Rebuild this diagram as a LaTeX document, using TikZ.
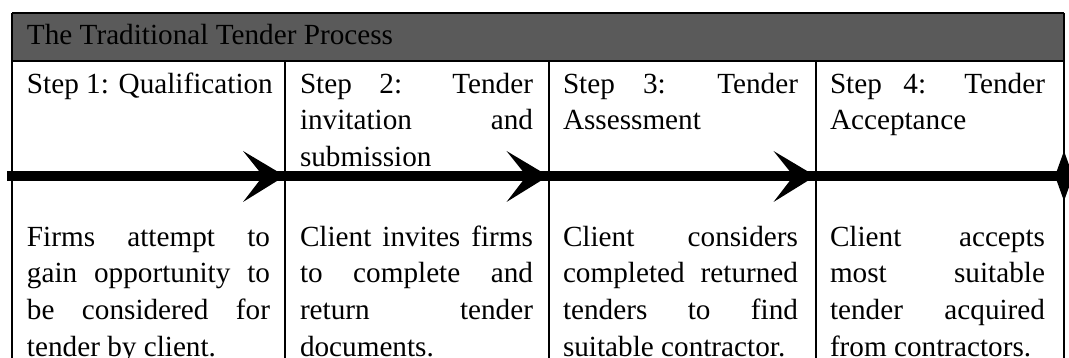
\documentclass[tikz,border=0pt]{standalone}
\usepackage{fontspec}
\setmainfont{Liberation Serif}
\definecolor{hdr}{RGB}{90,90,90}
\newlength\hdrw
\newcommand\bodyfont{\fontsize{\fs pt}{\fs pt}\selectfont}
\begin{document}
\settowidth\hdrw{\fontsize{20pt}{24pt}\selectfont The Traditional Tender Process}
\pgfmathsetmacro\fs{20*366/\hdrw}
\begin{tikzpicture}[x=1pt,y=-1pt,
  rule/.style={line width=2pt,black},
  frame/.style={line width=2.6pt,black},
  txt/.style={anchor=base west,inner sep=0pt,outer sep=0pt,font=\bodyfont},
  flow/.style={line width=10pt,black},
  headtip/.style={fill=black}]
\useasboundingbox (0,0) rectangle (1069,358);
\clip (0,0) rectangle (1069,358);
% header band
\fill[hdr] (12,13) rectangle (1064,61);
\draw[frame] (12,13) -- (1064,13);
\draw[frame] (12,61) -- (1064,61);
% vertical rules
\draw[frame] (12,13) -- (12,370);
\draw[frame] (1064,13) -- (1064,370);
\draw[rule] (285,61) -- (285,370);
\draw[rule] (548.5,61) -- (548.5,370);
\draw[rule] (815.5,61) -- (815.5,370);
% title
\node[txt] (title) at (27,45) {The Traditional Tender Process};
% step headings
\node[txt] (s1a) at (27,93.3) {Step 1: Qualification};
\node[txt] (s2a) at (300,93.3) {\makebox[233pt][s]{Step 2: Tender}};
\node[txt] (s2b) at (300,130) {\makebox[233pt][s]{invitation and}};
\node[txt] (s2c) at (300,166.7) {submission};
\node[txt] (s3a) at (563,93.3) {\makebox[235pt][s]{Step 3: Tender}};
\node[txt] (s3b) at (563,130) {Assessment};
\node[txt] (s4a) at (830,93.3) {\makebox[215pt][s]{Step 4: Tender}};
\node[txt] (s4b) at (830,130) {Acceptance};
% descriptions
\node[txt] (d1a) at (27,246.5) {\makebox[243pt][s]{Firms attempt to}};
\node[txt] (d1b) at (27,283) {\makebox[243pt][s]{gain opportunity to}};
\node[txt] (d1c) at (27,319.7) {\makebox[243pt][s]{be considered for}};
\node[txt] (d1d) at (27,356.3) {tender by client.};
\node[txt] (d2a) at (300,246.5) {\makebox[233pt][s]{Client invites firms}};
\node[txt] (d2b) at (300,283) {\makebox[233pt][s]{to complete and}};
\node[txt] (d2c) at (300,319.7) {\makebox[233pt][s]{return tender}};
\node[txt] (d2d) at (300,356.3) {documents.};
\node[txt] (d3a) at (563,246.5) {\makebox[235pt][s]{Client considers}};
\node[txt] (d3b) at (563,283) {\makebox[235pt][s]{completed returned}};
\node[txt] (d3c) at (563,319.7) {\makebox[235pt][s]{tenders to find}};
\node[txt] (d3d) at (563,356.3) {suitable contractor.};
\node[txt] (d4a) at (830,246.5) {\makebox[215pt][s]{Client accepts}};
\node[txt] (d4b) at (830,283) {\makebox[215pt][s]{most suitable}};
\node[txt] (d4c) at (830,319.7) {\makebox[215pt][s]{tender acquired}};
\node[txt] (d4d) at (830,356.3) {from contractors.};
% flow arrow
\coordinate (a0) at (7,176);
\coordinate (a1) at (285,176);
\coordinate (a2) at (548.5,176);
\coordinate (a3) at (815.5,176);
\coordinate (a4) at (1064,176);
\draw[flow] (a0) -- (a1);
\draw[flow] (a1) -- (a2);
\draw[flow] (a2) -- (a3);
\draw[flow] (a3) -- (a4);
\foreach \t in {a1,a2,a3}{
  \fill[headtip] (\t) -- ++(-42,-25) -- ++(20,25) -- ++(-20,26) -- cycle;
}
\fill[headtip] (a4) ++(-9,0) -- ++(9,-25) -- ++(9,25) -- ++(-9,25) -- cycle;
\end{tikzpicture}
\end{document}
